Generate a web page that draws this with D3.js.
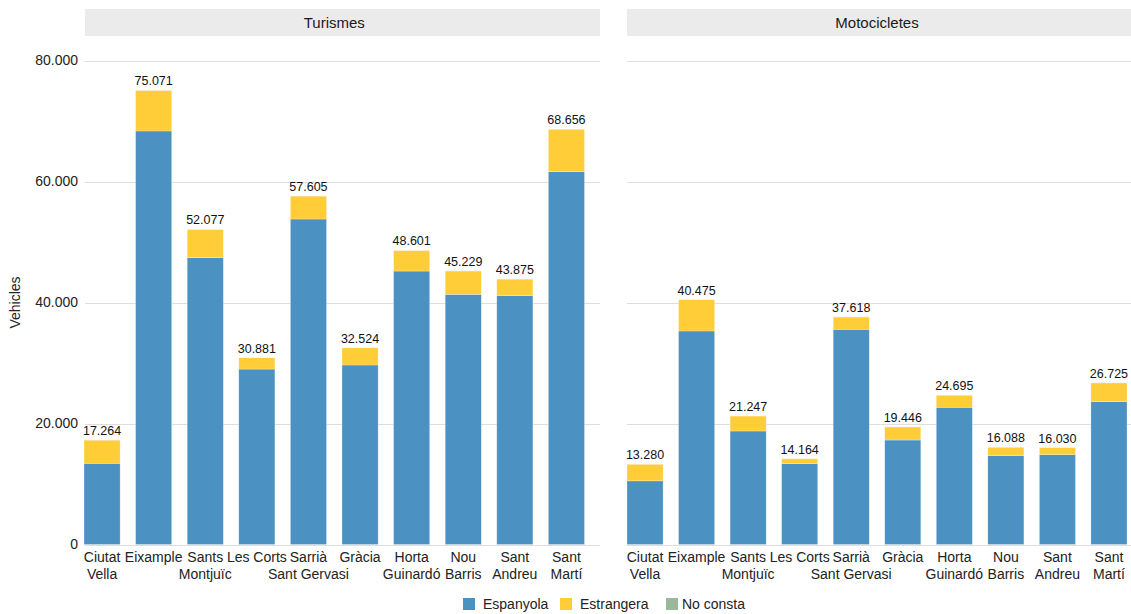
<!DOCTYPE html>
<html>
<head>
<meta charset="utf-8">
<script src="https://cdn.jsdelivr.net/npm/d3@7"></script>
<style>
  html, body { margin: 0; padding: 0; background: #fff; }
  svg { display: block; font-family: "Liberation Sans", Arial, Helvetica, sans-serif; }
</style>
</head>
<body>
<svg id="chart" width="1131" height="614"></svg>
<script>
// ---- Data ----
const districts = [
  ["Ciutat", "Vella"], ["Eixample"], ["Sants", "Montjuïc"], ["Les Corts"],
  ["Sarrià", "Sant Gervasi"], ["Gràcia"], ["Horta", "Guinardó"],
  ["Nou", "Barris"], ["Sant", "Andreu"], ["Sant", "Martí"]
];
const districtKeys = districts.map(d => d.join(" "));
const panels = ["Turismes", "Motocicletes"];
const seriesNames = ["Espanyola", "Estrangera", "No consta"];
const seriesColors = ["#4b91c2", "#ffcd38", "#9bb89a"];

const turismesEspanyola  = [13420, 68350, 47400, 29000, 53800, 29670, 45200, 41350, 41130, 61620];
const turismesEstrangera = [3830, 6700, 4660, 1870, 3790, 2840, 3390, 3860, 2730, 7020];
const turismesNoConsta   = [14, 21, 17, 11, 15, 14, 11, 19, 15, 16];

const motosEspanyola  = [10520, 35290, 18760, 13360, 35570, 17270, 22680, 14680, 14850, 23600];
const motosEstrangera = [2750, 5170, 2480, 800, 2040, 2170, 2005, 1400, 1175, 3115];
const motosNoConsta   = [10, 15, 7, 4, 8, 6, 10, 8, 5, 10];

const yTicks = [0, 20000, 40000, 60000, 80000];
const yTitle = "Vehicles";

// ---- Build tables ----
function buildRows(esp, estr, nc) {
  return districtKeys.map((k, i) => ({ key: k, "Espanyola": esp[i], "Estrangera": estr[i], "No consta": nc[i] }));
}
const panelData = [
  buildRows(turismesEspanyola, turismesEstrangera, turismesNoConsta),
  buildRows(motosEspanyola, motosEstrangera, motosNoConsta)
];

const locale = d3.formatLocale({ decimal: ",", thousands: ".", grouping: [3], currency: ["", "€"] });
const fmt = locale.format(",d");

// ---- Layout ----
const svg = d3.select("#chart");
const yTop = 60.5, yBottom = 544.5;
const y = d3.scaleLinear().domain([0, 80000]).range([yBottom, yTop]);
const panelBox = [
  { left: 85, right: 600, barL: 84, barR: 584.5 },
  { left: 627, right: 1131, barL: 627, barR: 1127 }
];
const color = d3.scaleOrdinal().domain(seriesNames).range(seriesColors);
const stack = d3.stack().keys(seriesNames);

// Y axis labels (shared, left)
const yAxis = d3.axisLeft(y).tickValues(yTicks).tickFormat(d => fmt(d)).tickSize(0).tickPadding(0);
const yg = svg.append("g").attr("transform", "translate(78,0)").call(yAxis);
yg.select(".domain").remove();
yg.selectAll("text").attr("font-size", 14).attr("fill", "#222").attr("font-family", "Liberation Sans, Arial, sans-serif");

svg.append("text")
  .attr("transform", `translate(20,${(yTop + yBottom) / 2}) rotate(-90)`)
  .attr("text-anchor", "middle")
  .attr("font-size", 14)
  .attr("fill", "#222")
  .text(yTitle);

panels.forEach((name, pi) => {
  const box = panelBox[pi];
  const g = svg.append("g");

  // strip
  g.append("rect").attr("x", box.left).attr("y", 9).attr("width", box.right - box.left).attr("height", 27).attr("fill", "#ebebeb");
  g.append("text").attr("x", (box.barL + box.barR) / 2).attr("y", 22.5).attr("dy", "0.35em")
    .attr("text-anchor", "middle").attr("font-size", 15).attr("fill", "#1a1a1a").text(name);

  // gridlines
  g.append("g").selectAll("line").data(yTicks).join("line")
    .attr("x1", box.left).attr("x2", box.right)
    .attr("y1", d => Math.round(y(d)) + 0.5).attr("y2", d => Math.round(y(d)) + 0.5)
    .attr("stroke", "#dedede").attr("stroke-width", 1);

  const x = d3.scaleBand().domain(districtKeys).range([box.barL, box.barR]).paddingInner(0.3).paddingOuter(0);

  const stacked = stack(panelData[pi]);
  g.append("g").selectAll("g").data(stacked).join("g")
    .attr("fill", d => color(d.key))
    .selectAll("rect").data(d => d).join("rect")
    .attr("x", d => x(d.data.key))
    .attr("width", x.bandwidth())
    .attr("y", d => y(d[1]))
    .attr("height", d => Math.max(0, y(d[0]) - y(d[1])))
    .attr("stroke", "rgba(255,255,255,0.45)")
    .attr("stroke-width", 0.6);

  // total labels
  g.append("g").selectAll("text").data(panelData[pi]).join("text")
    .attr("x", d => x(d.key) + x.bandwidth() / 2)
    .attr("y", d => y(d["Espanyola"] + d["Estrangera"] + d["No consta"]) - 5)
    .attr("text-anchor", "middle").attr("font-size", 12.5).attr("fill", "#111")
    .text(d => fmt(d["Espanyola"] + d["Estrangera"] + d["No consta"]));

  // x tick labels
  const xl = g.append("g").selectAll("text").data(districts).join("text")
    .attr("x", (d, i) => x(districtKeys[i]) + x.bandwidth() / 2)
    .attr("y", 562)
    .attr("text-anchor", "middle").attr("font-size", 14).attr("fill", "#222");
  xl.selectAll("tspan").data(d => d).join("tspan")
    .attr("x", function () { return d3.select(this.parentNode).attr("x"); })
    .attr("dy", (d, i) => i === 0 ? 0 : 17)
    .text(d => d);
});

// legend
const legendItems = [
  { name: "Espanyola", sx: 463, tx: 483 },
  { name: "Estrangera", sx: 560, tx: 580 },
  { name: "No consta", sx: 666, tx: 682 }
];
const lg = svg.append("g");
lg.selectAll("rect").data(legendItems).join("rect")
  .attr("x", d => d.sx).attr("y", 598).attr("width", 12).attr("height", 12)
  .attr("fill", d => color(d.name));
lg.selectAll("text").data(legendItems).join("text")
  .attr("x", d => d.tx).attr("y", 604).attr("dy", "0.35em")
  .attr("font-size", 14).attr("fill", "#222").text(d => d.name);
</script>
</body>
</html>
